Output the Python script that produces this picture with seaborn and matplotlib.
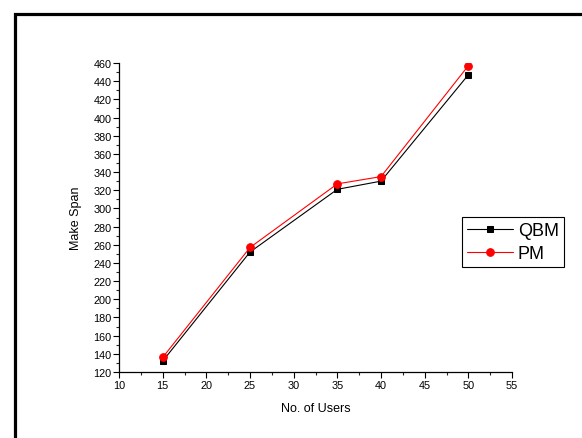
import numpy as np
import pandas as pd
import matplotlib
matplotlib.use('Agg')
import matplotlib.pyplot as plt
import seaborn as sns
from matplotlib.ticker import MultipleLocator
from matplotlib.patches import Rectangle

# values
users = [15, 25, 35, 40, 50]
qbm = [132, 252, 321, 330, 447]
pm = [136, 257, 327, 335, 457]

sns.set_style('ticks')
plt.rcParams['font.family'] = ['Liberation Sans', 'DejaVu Sans']
plt.rcParams['text.color'] = 'black'
plt.rcParams['axes.labelcolor'] = 'black'

fig = plt.figure(figsize=(5.82, 4.39), dpi=100)
ax = fig.add_axes([119 / 582, 1 - 373 / 439, 393 / 582, 309 / 439])

sns.lineplot(x=users, y=qbm, color='black', marker='s', markersize=4.5,
             markeredgecolor='black', linewidth=0.8, label='QBM', ax=ax)
sns.lineplot(x=users, y=pm, color='red', marker='o', markersize=5.5,
             markeredgecolor='red', linewidth=0.8, label='PM', ax=ax)

ax.set_xlim(10, 55)
ax.set_ylim(120, 460)
ax.xaxis.set_major_locator(MultipleLocator(5))
ax.xaxis.set_minor_locator(MultipleLocator(2.5))
ax.yaxis.set_major_locator(MultipleLocator(20))
ax.yaxis.set_minor_locator(MultipleLocator(10))
ax.tick_params(which='major', direction='out', length=4, width=0.8,
               labelsize=7.8, pad=1.5, colors='black')
ax.tick_params(which='minor', direction='out', length=2.5, width=0.8)
sns.despine(ax=ax)
for s in ['left', 'bottom']:
    ax.spines[s].set_color('black')
    ax.spines[s].set_linewidth(0.9)

ax.set_xlabel('No. of Users', fontsize=9, labelpad=9)
ax.set_ylabel('Make Span', fontsize=9, labelpad=8)

ax.legend(loc='upper left', bbox_to_anchor=(462 / 582, 1 - 218 / 439),
          bbox_transform=fig.transFigure, fontsize=13, frameon=True,
          fancybox=False, edgecolor='black', framealpha=1,
          handlelength=2.5, handletextpad=0.3, borderpad=0.3,
          labelspacing=0.3, borderaxespad=0)
ax.get_legend().get_frame().set_linewidth(0.8)

# outer frame, runs off the right and bottom edges
fig.patches.append(Rectangle((15 / 582, -0.1), 1.2, 1 - 14.5 / 439 + 0.1,
                             transform=fig.transFigure, fill=False,
                             lw=2.3, edgecolor='black'))

fig.savefig('out.png', dpi=100)
